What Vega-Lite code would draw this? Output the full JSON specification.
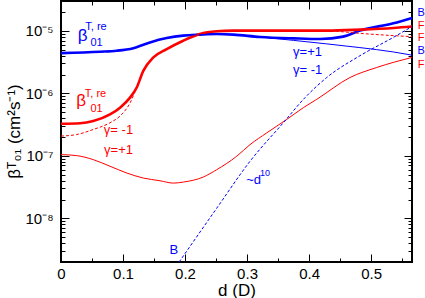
{
  "$schema": "https://vega.github.io/schema/vega-lite/v6.json",
  "width": 351,
  "height": 261,
  "autosize": "none",
  "padding": {"left": 61, "top": 1, "right": 13, "bottom": 36},
  "config": {
    "font": "Liberation Sans",
    "view": {"stroke": "black", "strokeWidth": 2},
    "axis": {"grid": false, "domain": false, "tickColor": "black", "labelColor": "black", "titleColor": "black", "tickWidth": 1, "labelFont": "Liberation Sans", "titleFont": "Liberation Sans", "titleFontWeight": "normal", "labelFontSize": 15, "labelOverlap": false, "labelFlush": false}
  },
  "datasets": {
    "curves": [
      {"c": "Bthick", "g": "B", "x": 0, "y": 4.40e-6},
      {"c": "Bthick", "g": "B", "x": 0.063, "y": 4.63e-6},
      {"c": "Bthick", "g": "B", "x": 0.0898, "y": 4.81e-6},
      {"c": "Bthick", "g": "B", "x": 0.1166, "y": 5.28e-6},
      {"c": "Bthick", "g": "B", "x": 0.1435, "y": 6.53e-6},
      {"c": "Bthick", "g": "B", "x": 0.1705, "y": 7.65e-6},
      {"c": "Bthick", "g": "B", "x": 0.197, "y": 8.38e-6},
      {"c": "Bthick", "g": "B", "x": 0.224, "y": 8.69e-6},
      {"c": "Bthick", "g": "B", "x": 0.251, "y": 8.89e-6},
      {"c": "Bthick", "g": "B", "x": 0.278, "y": 8.69e-6},
      {"c": "Bthick", "g": "B", "x": 0.321, "y": 7.98e-6},
      {"c": "Bthick", "g": "B", "x": 0.375, "y": 7.57e-6},
      {"c": "Bthick", "g": "B", "x": 0.418, "y": 7.38e-6},
      {"c": "Bthick", "g": "B", "x": 0.455, "y": 8.07e-6},
      {"c": "Bthick", "g": "B", "x": 0.482, "y": 1.007e-5},
      {"c": "Bthick", "g": "B", "x": 0.536, "y": 1.32e-5},
      {"c": "Bthick", "g": "B", "x": 0.566, "y": 1.61e-5},

      {"c": "Fthick", "g": "F", "x": 0, "y": 3.26e-7},
      {"c": "Fthick", "g": "F", "x": 0.0306, "y": 3.32e-7},
      {"c": "Fthick", "g": "F", "x": 0.0521, "y": 3.60e-7},
      {"c": "Fthick", "g": "F", "x": 0.079, "y": 4.59e-7},
      {"c": "Fthick", "g": "F", "x": 0.0952, "y": 5.89e-7},
      {"c": "Fthick", "g": "F", "x": 0.1113, "y": 8.53e-7},
      {"c": "Fthick", "g": "F", "x": 0.1221, "y": 1.24e-6},
      {"c": "Fthick", "g": "F", "x": 0.1327, "y": 2.29e-6},
      {"c": "Fthick", "g": "F", "x": 0.1489, "y": 3.75e-6},
      {"c": "Fthick", "g": "F", "x": 0.1705, "y": 5.09e-6},
      {"c": "Fthick", "g": "F", "x": 0.197, "y": 6.95e-6},
      {"c": "Fthick", "g": "F", "x": 0.224, "y": 8.89e-6},
      {"c": "Fthick", "g": "F", "x": 0.251, "y": 9.82e-6},
      {"c": "Fthick", "g": "F", "x": 0.278, "y": 1.007e-5},
      {"c": "Fthick", "g": "F", "x": 0.4285, "y": 1.007e-5},
      {"c": "Fthick", "g": "F", "x": 0.482, "y": 1.045e-5},
      {"c": "Fthick", "g": "F", "x": 0.536, "y": 1.11e-5},
      {"c": "Fthick", "g": "F", "x": 0.566, "y": 1.17e-5},

      {"c": "Bthin", "g": "B", "x": 0, "y": 4.40e-6},
      {"c": "Bthin", "g": "B", "x": 0.063, "y": 4.63e-6},
      {"c": "Bthin", "g": "B", "x": 0.0898, "y": 4.81e-6},
      {"c": "Bthin", "g": "B", "x": 0.1166, "y": 5.28e-6},
      {"c": "Bthin", "g": "B", "x": 0.1435, "y": 6.53e-6},
      {"c": "Bthin", "g": "B", "x": 0.1705, "y": 7.65e-6},
      {"c": "Bthin", "g": "B", "x": 0.197, "y": 8.38e-6},
      {"c": "Bthin", "g": "B", "x": 0.224, "y": 8.69e-6},
      {"c": "Bthin", "g": "B", "x": 0.251, "y": 8.89e-6},
      {"c": "Bthin", "g": "B", "x": 0.278, "y": 8.69e-6},
      {"c": "Bthin", "g": "B", "x": 0.321, "y": 7.98e-6},
      {"c": "Bthin", "g": "B", "x": 0.375, "y": 7.03e-6},
      {"c": "Bthin", "g": "B", "x": 0.4285, "y": 6.18e-6},
      {"c": "Bthin", "g": "B", "x": 0.482, "y": 5.39e-6},
      {"c": "Bthin", "g": "B", "x": 0.536, "y": 4.59e-6},
      {"c": "Bthin", "g": "B", "x": 0.566, "y": 4.08e-6},

      {"c": "Fthin", "g": "F", "x": 0, "y": 1.045e-7},
      {"c": "Fthin", "g": "F", "x": 0.0253, "y": 1.007e-7},
      {"c": "Fthin", "g": "F", "x": 0.0521, "y": 8.69e-8},
      {"c": "Fthin", "g": "F", "x": 0.079, "y": 6.81e-8},
      {"c": "Fthin", "g": "F", "x": 0.106, "y": 5.31e-8},
      {"c": "Fthin", "g": "F", "x": 0.1327, "y": 4.41e-8},
      {"c": "Fthin", "g": "F", "x": 0.1597, "y": 3.99e-8},
      {"c": "Fthin", "g": "F", "x": 0.1811, "y": 3.66e-8},
      {"c": "Fthin", "g": "F", "x": 0.1973, "y": 3.80e-8},
      {"c": "Fthin", "g": "F", "x": 0.2295, "y": 4.58e-8},
      {"c": "Fthin", "g": "F", "x": 0.2511, "y": 6.0e-8},
      {"c": "Fthin", "g": "F", "x": 0.2834, "y": 9.86e-8},
      {"c": "Fthin", "g": "F", "x": 0.3048, "y": 1.51e-7},
      {"c": "Fthin", "g": "F", "x": 0.3318, "y": 2.33e-7},
      {"c": "Fthin", "g": "F", "x": 0.364, "y": 3.82e-7},
      {"c": "Fthin", "g": "F", "x": 0.3908, "y": 5.89e-7},
      {"c": "Fthin", "g": "F", "x": 0.4124, "y": 8.01e-7},
      {"c": "Fthin", "g": "F", "x": 0.466, "y": 1.79e-6},
      {"c": "Fthin", "g": "F", "x": 0.509, "y": 2.59e-6},
      {"c": "Fthin", "g": "F", "x": 0.566, "y": 3.75e-6},

      {"c": "Fdash", "g": "F", "x": 0, "y": 2.07e-7},
      {"c": "Fdash", "g": "F", "x": 0.0253, "y": 2.19e-7},
      {"c": "Fdash", "g": "F", "x": 0.0521, "y": 2.64e-7},
      {"c": "Fdash", "g": "F", "x": 0.079, "y": 3.38e-7},
      {"c": "Fdash", "g": "F", "x": 0.0952, "y": 4.33e-7},
      {"c": "Fdash", "g": "F", "x": 0.1113, "y": 7.0e-7},
      {"c": "Fdash", "g": "F", "x": 0.1221, "y": 1.24e-6},
      {"c": "Fdash", "g": "F", "x": 0.1327, "y": 2.29e-6},
      {"c": "Fdash", "g": "F", "x": 0.1489, "y": 3.75e-6},
      {"c": "Fdash", "g": "F", "x": 0.1705, "y": 5.09e-6},
      {"c": "Fdash", "g": "F", "x": 0.197, "y": 6.95e-6},
      {"c": "Fdash", "g": "F", "x": 0.224, "y": 8.89e-6},
      {"c": "Fdash", "g": "F", "x": 0.251, "y": 9.82e-6},
      {"c": "Fdash", "g": "F", "x": 0.278, "y": 1.007e-5},
      {"c": "Fdash", "g": "F", "x": 0.4285, "y": 1.007e-5},
      {"c": "Fdash", "g": "F", "x": 0.455, "y": 9.63e-6},
      {"c": "Fdash", "g": "F", "x": 0.482, "y": 9.12e-6},
      {"c": "Fdash", "g": "F", "x": 0.536, "y": 8.38e-6},
      {"c": "Fdash", "g": "F", "x": 0.566, "y": 8.07e-6},

      {"c": "Bdash", "g": "B", "x": 0.1905, "y": 2.0e-9},
      {"c": "Bdash", "g": "B", "x": 0.2511, "y": 1.45e-8},
      {"c": "Bdash", "g": "B", "x": 0.3048, "y": 8.18e-8},
      {"c": "Bdash", "g": "B", "x": 0.3585, "y": 3.38e-7},
      {"c": "Bdash", "g": "B", "x": 0.3935, "y": 8.53e-7},
      {"c": "Bdash", "g": "B", "x": 0.4285, "y": 1.79e-6},
      {"c": "Bdash", "g": "B", "x": 0.482, "y": 3.99e-6},
      {"c": "Bdash", "g": "B", "x": 0.536, "y": 7.86e-6},
      {"c": "Bdash", "g": "B", "x": 0.566, "y": 1.17e-5}
    ],
    "notes": [
      {"r": "big", "g": "B", "t": "β", "x": 0.0347, "y": 8.16e-6},
      {"r": "big", "g": "F", "t": "β", "x": 0.0323, "y": 7.5e-7},
      {"r": "small", "g": "B", "t": "T, re", "x": 0.0565, "y": 1.138e-5},
      {"r": "small", "g": "B", "t": "01", "x": 0.0573, "y": 6.42e-6},
      {"r": "small", "g": "F", "t": "T, re", "x": 0.0556, "y": 9.7e-7},
      {"r": "small", "g": "F", "t": "01", "x": 0.0573, "y": 5.68e-7},
      {"r": "tiny", "g": "B", "t": "10", "x": 0.329, "y": 5.31e-8},
      {"r": "norm", "g": "F", "t": "γ= -1", "x": 0.0927, "y": 2.61e-7},
      {"r": "norm", "g": "F", "t": "γ=+1", "x": 0.0927, "y": 1.22e-7},
      {"r": "norm", "g": "B", "t": "γ=+1", "x": 0.3976, "y": 4.51e-6},
      {"r": "norm", "g": "B", "t": "γ= -1", "x": 0.3976, "y": 2.40e-6},
      {"r": "norm", "g": "B", "t": "~d", "x": 0.3105, "y": 4.10e-8},
      {"r": "norm", "g": "B", "t": "B", "x": 0.182, "y": 3.07e-9},
      {"r": "edge", "g": "B", "t": "B", "x": 0.5806, "y": 1.9e-5},
      {"r": "edge", "g": "F", "t": "F", "x": 0.5806, "y": 1.19e-5},
      {"r": "edge", "g": "F", "t": "F", "x": 0.5806, "y": 7.57e-6},
      {"r": "edge", "g": "B", "t": "B", "x": 0.5806, "y": 4.76e-6},
      {"r": "edge", "g": "F", "t": "F", "x": 0.5806, "y": 2.89e-6}
    ]
  },
  "layer": [
    {
      "data": {"name": "curves"},
      "transform": [{"filter": "datum.c == 'Bthick' || datum.c == 'Fthick'"}],
      "mark": {"type": "line", "strokeWidth": 2.6, "interpolate": "monotone"},
      "encoding": {
        "x": {"field": "x", "type": "quantitative",
          "scale": {"domain": [0, 0.566], "nice": false, "zero": false},
          "axis": {"orient": "bottom",
            "values": [0, 0.05, 0.1, 0.15, 0.2, 0.25, 0.3, 0.35, 0.4, 0.45, 0.5, 0.55],
            "labelExpr": "abs(datum.value*10 - round(datum.value*10)) < 0.001 ? (datum.value == 0 ? '0' : format(datum.value, '.1f')) : ''",
            "tickSize": {"condition": {"test": "abs(datum.value*10 - round(datum.value*10)) < 0.001", "value": -8}, "value": -4},
            "labelPadding": 12,
            "title": "d (D)", "titleFontSize": 17, "titleY": 28, "titleBaseline": "middle"}},
        "y": {"field": "y", "type": "quantitative",
          "scale": {"type": "log", "domain": [2e-9, 3e-5], "nice": false},
          "axis": {"orient": "left",
            "values": [2e-9, 3e-9, 4e-9, 5e-9, 6e-9, 7e-9, 8e-9, 9e-9, 1e-8, 2e-8, 3e-8, 4e-8, 5e-8, 6e-8, 7e-8, 8e-8, 9e-8, 1e-7, 2e-7, 3e-7, 4e-7, 5e-7, 6e-7, 7e-7, 8e-7, 9e-7, 1e-6, 2e-6, 3e-6, 4e-6, 5e-6, 6e-6, 7e-6, 8e-6, 9e-6, 1e-5, 2e-5, 3e-5],
            "labelExpr": "round(log(datum.value)/LN10) == -5 && abs(log(datum.value)/LN10 + 5) < 0.001 ? '10⁻⁵' : round(log(datum.value)/LN10) == -6 && abs(log(datum.value)/LN10 + 6) < 0.001 ? '10⁻⁶' : round(log(datum.value)/LN10) == -7 && abs(log(datum.value)/LN10 + 7) < 0.001 ? '10⁻⁷' : round(log(datum.value)/LN10) == -8 && abs(log(datum.value)/LN10 + 8) < 0.001 ? '10⁻⁸' : ''",
            "tickSize": {"condition": {"test": "abs(log(datum.value)/LN10 - round(log(datum.value)/LN10)) < 0.001", "value": -8}, "value": -4},
            "labelPadding": 16,
            "title": "βᵀ₀₁ (cm²s⁻¹)", "titleFontSize": 17, "titleAngle": -90, "titleX": -47, "titleY": 130, "titleAlign": "center", "titleBaseline": "middle"}},
        "color": {"field": "g", "type": "nominal", "scale": {"domain": ["B", "F"], "range": ["#0000ff", "#ff0000"]}, "legend": null},
        "detail": {"field": "c"}
      }
    },
    {
      "data": {"name": "curves"},
      "transform": [{"filter": "datum.c == 'Bthin' || datum.c == 'Fthin'"}],
      "mark": {"type": "line", "strokeWidth": 1, "interpolate": "monotone"},
      "encoding": {
        "x": {"field": "x", "type": "quantitative",
          "axis": {"orient": "top", "labels": false, "title": null,
            "values": [0, 0.05, 0.1, 0.15, 0.2, 0.25, 0.3, 0.35, 0.4, 0.45, 0.5, 0.55],
            "tickSize": {"condition": {"test": "abs(datum.value*10 - round(datum.value*10)) < 0.001", "value": -8}, "value": -4}}},
        "y": {"field": "y", "type": "quantitative",
          "axis": {"orient": "right", "labels": false, "title": null,
            "values": [2e-9, 3e-9, 4e-9, 5e-9, 6e-9, 7e-9, 8e-9, 9e-9, 1e-8, 2e-8, 3e-8, 4e-8, 5e-8, 6e-8, 7e-8, 8e-8, 9e-8, 1e-7, 2e-7, 3e-7, 4e-7, 5e-7, 6e-7, 7e-7, 8e-7, 9e-7, 1e-6, 2e-6, 3e-6, 4e-6, 5e-6, 6e-6, 7e-6, 8e-6, 9e-6, 1e-5, 2e-5, 3e-5],
            "tickSize": {"condition": {"test": "abs(log(datum.value)/LN10 - round(log(datum.value)/LN10)) < 0.001", "value": -8}, "value": -4}}},
        "color": {"field": "g", "type": "nominal", "legend": null},
        "detail": {"field": "c"}
      }
    },
    {
      "data": {"name": "curves"},
      "transform": [{"filter": "datum.c == 'Bdash' || datum.c == 'Fdash'"}],
      "mark": {"type": "line", "strokeWidth": 1, "strokeDash": [3, 2], "interpolate": "monotone", "clip": true},
      "encoding": {
        "x": {"field": "x", "type": "quantitative", "axis": null},
        "y": {"field": "y", "type": "quantitative", "axis": null},
        "color": {"field": "g", "type": "nominal", "legend": null},
        "detail": {"field": "c"}
      }
    },
    {
      "data": {"name": "notes"},
      "transform": [{"filter": "datum.r == 'big'"}],
      "mark": {"type": "text", "fontSize": 17, "align": "center", "baseline": "middle", "font": "Liberation Sans"},
      "encoding": {
        "x": {"field": "x", "type": "quantitative", "axis": null},
        "y": {"field": "y", "type": "quantitative", "axis": null},
        "text": {"field": "t"},
        "color": {"field": "g", "type": "nominal", "legend": null}
      }
    },
    {
      "data": {"name": "notes"},
      "transform": [{"filter": "datum.r == 'small'"}],
      "mark": {"type": "text", "fontSize": 11, "align": "center", "baseline": "middle", "font": "Liberation Sans"},
      "encoding": {
        "x": {"field": "x", "type": "quantitative", "axis": null},
        "y": {"field": "y", "type": "quantitative", "axis": null},
        "text": {"field": "t"},
        "color": {"field": "g", "type": "nominal", "legend": null}
      }
    },
    {
      "data": {"name": "notes"},
      "transform": [{"filter": "datum.r == 'tiny'"}],
      "mark": {"type": "text", "fontSize": 9, "align": "center", "baseline": "middle", "font": "Liberation Sans"},
      "encoding": {
        "x": {"field": "x", "type": "quantitative", "axis": null},
        "y": {"field": "y", "type": "quantitative", "axis": null},
        "text": {"field": "t"},
        "color": {"field": "g", "type": "nominal", "legend": null}
      }
    },
    {
      "data": {"name": "notes"},
      "transform": [{"filter": "datum.r == 'norm'"}],
      "mark": {"type": "text", "fontSize": 13, "align": "center", "baseline": "middle", "font": "Liberation Sans"},
      "encoding": {
        "x": {"field": "x", "type": "quantitative", "axis": null},
        "y": {"field": "y", "type": "quantitative", "axis": null},
        "text": {"field": "t"},
        "color": {"field": "g", "type": "nominal", "legend": null}
      }
    },
    {
      "data": {"name": "notes"},
      "transform": [{"filter": "datum.r == 'edge'"}],
      "mark": {"type": "text", "fontSize": 11, "align": "center", "baseline": "middle", "font": "Liberation Sans"},
      "encoding": {
        "x": {"field": "x", "type": "quantitative", "axis": null},
        "y": {"field": "y", "type": "quantitative", "axis": null},
        "text": {"field": "t"},
        "color": {"field": "g", "type": "nominal", "legend": null}
      }
    }
  ],
  "resolve": {"axis": {"x": "independent", "y": "independent"}}
}
